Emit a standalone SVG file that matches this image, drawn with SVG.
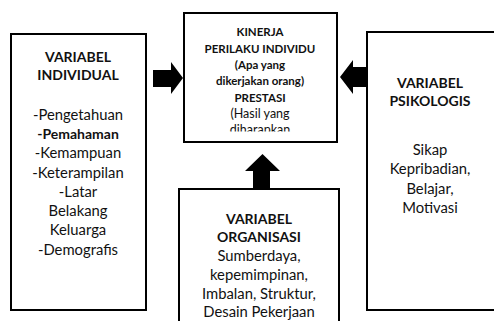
<svg xmlns="http://www.w3.org/2000/svg" width="494" height="321" viewBox="0 0 494 321">
<style>
.box{fill:#fff;stroke:#000;stroke-width:2}
text{font-family:Lato,"Open Sans","Liberation Sans",sans-serif;fill:#111;text-anchor:middle}
.t{font-size:14.8px}
.b{font-size:14px;font-weight:bold}
.s{font-size:11.5px;font-weight:bold}
.r{font-size:12.5px}
.arrow{fill:#000}
</style>
<defs>
<clipPath id="clipC"><rect x="185" y="14" width="151" height="117.5"/></clipPath>
</defs>
<rect width="494" height="321" fill="#fff"/>
<g id="individual">
<rect class="box" x="11" y="34" width="135" height="276"/>
<text class="b" x="78" y="62">VARIABEL</text>
<text class="b" x="78" y="80">INDIVIDUAL</text>
<text class="t" x="78" y="119.5">-Pengetahuan</text>
<text class="b" x="78" y="139">-Pemahaman</text>
<text class="t" x="78" y="158">-Kemampuan</text>
<text class="t" x="78" y="177.5">-Keterampilan</text>
<text class="t" x="78" y="196.5">-Latar</text>
<text class="t" x="78" y="216">Belakang</text>
<text class="t" x="78" y="235">Keluarga</text>
<text class="t" x="78" y="254.5">-Demografis</text>
</g>
<g id="kinerja">
<rect class="box" x="184" y="13" width="153" height="129"/>
<g clip-path="url(#clipC)">
<text class="s" x="260" y="36">KINERJA</text>
<text class="s" x="260" y="52.5">PERILAKU INDIVIDU</text>
<text class="s" x="260" y="68.5">(Apa yang</text>
<text class="s" x="260" y="85">dikerjakan orang)</text>
<text class="s" x="260" y="101.5">PRESTASI</text>
<text class="r" x="260" y="117.5">(Hasil yang</text>
<text class="r" x="260" y="134">diharapkan</text>
</g>
</g>
<g id="psikologis">
<rect class="box" x="367" y="32" width="140" height="278"/>
<text class="b" x="430" y="87.5">VARIABEL</text>
<text class="b" x="430" y="106">PSIKOLOGIS</text>
<text class="t" x="430" y="155">Sikap</text>
<text class="t" x="430" y="174">Kepribadian,</text>
<text class="t" x="430" y="193.5">Belajar,</text>
<text class="t" x="430" y="212.5">Motivasi</text>
</g>
<g id="organisasi">
<rect class="box" x="179" y="189" width="160" height="140"/>
<text class="b" x="259" y="223.5">VARIABEL</text>
<text class="b" x="259" y="242">ORGANISASI</text>
<text class="t" x="259" y="261">Sumberdaya,</text>
<text class="t" x="259" y="279.5">kepemimpinan,</text>
<text class="t" x="259" y="298.5">Imbalan, Struktur,</text>
<text class="t" x="259" y="316.5">Desain Pekerjaan</text>
</g>
<g id="connectors">
<polygon class="arrow" points="153,70 171,70 171,62 183,78 171,94 171,87 153,87"/>
<polygon class="arrow" points="367,67 353,67 353,60 340,77 353,94 353,87 367,87"/>
<polygon class="arrow" points="253,189 253,171 245,171 262.5,154 280,171 270,171 270,189"/>
</g>
</svg>
